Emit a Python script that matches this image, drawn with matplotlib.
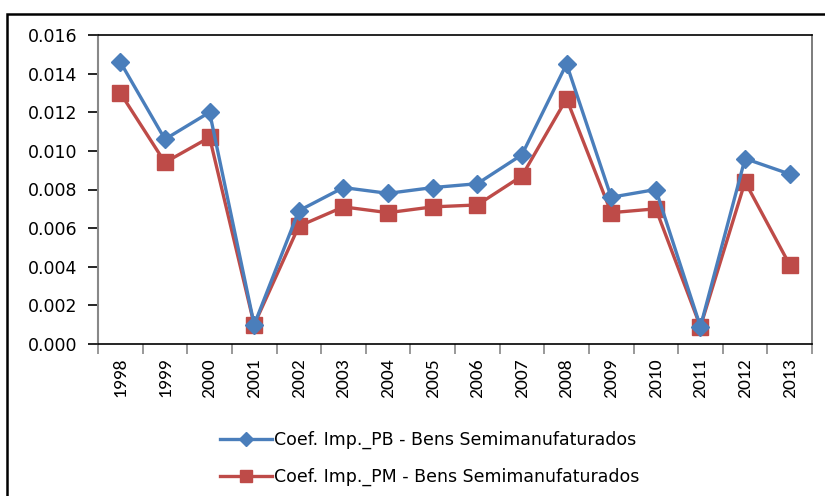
import matplotlib
matplotlib.use("Agg")
import matplotlib.pyplot as plt
from matplotlib.patches import Rectangle
import numpy as np

years = ["1998", "1999", "2000", "2001", "2002", "2003", "2004", "2005",
         "2006", "2007", "2008", "2009", "2010", "2011", "2012", "2013"]
pb_values = [0.0146, 0.0106, 0.0120, 0.0010, 0.0069, 0.0081, 0.0078, 0.0081,
             0.0083, 0.0098, 0.0145, 0.0076, 0.0080, 0.0009, 0.0096, 0.0088]
pm_values = [0.0130, 0.0094, 0.0107, 0.0010, 0.0061, 0.0071, 0.0068, 0.0071,
             0.0072, 0.0087, 0.0127, 0.0068, 0.0070, 0.0009, 0.0084, 0.0041]
pb_label = "Coef. Imp._PB - Bens Semimanufaturados"
pm_label = "Coef. Imp._PM - Bens Semimanufaturados"
yticks = [0.000, 0.002, 0.004, 0.006, 0.008, 0.010, 0.012, 0.014, 0.016]

W, H = 825, 496
fig = plt.figure(figsize=(W / 100, H / 100), dpi=100)
fig.patch.set_facecolor("white")

fig.patches.append(Rectangle((7 / W, -0.05), 1.2, 1 - 14 / H + 0.05,
                             transform=fig.transFigure, fill=False,
                             edgecolor="black", linewidth=1.8))

left, right, top, bottom = 98, 812, 35, 344
ax = fig.add_axes([left / W, 1 - bottom / H, (right - left) / W, (bottom - top) / H])

x = np.arange(len(years))
ax.plot(x, pb_values, color="#4A7EBB", linewidth=2.4, marker="D", markersize=9,
        label=pb_label, zorder=3)
ax.plot(x, pm_values, color="#BE4B48", linewidth=2.4, marker="s", markersize=11,
        label=pm_label, zorder=2)

ax.set_xlim(-0.5, len(years) - 0.5)
ax.set_ylim(0, 0.016)
ax.set_yticks(yticks)
ax.set_yticklabels([f"{v:.3f}" for v in yticks], fontsize=12.5, family="DejaVu Sans")
ax.set_xticks(x)
ax.set_xticklabels(years, rotation=90, fontsize=14, family=["Carlito", "DejaVu Sans"])
ax.set_xticks(np.arange(-0.5, len(years), 1.0), minor=True)
ax.tick_params(axis="x", which="major", length=0, pad=10)
ax.tick_params(axis="x", which="minor", length=7, color="#888888", width=1.2)
ax.tick_params(axis="y", which="major", length=7, color="#000000", width=1.2, pad=8)

ax.spines["left"].set_color("#888888")
ax.spines["left"].set_linewidth(1.5)
ax.spines["bottom"].set_color("#000000")
ax.spines["bottom"].set_linewidth(1.2)
ax.spines["top"].set_color("#000000")
ax.spines["top"].set_linewidth(1.2)
ax.spines["right"].set_color("#666666")
ax.spines["right"].set_linewidth(1.2)

leg = fig.legend(loc="center left", bbox_to_anchor=(220 / W, 1 - 458.5 / H), ncol=1,
                 frameon=False, handlelength=3.0, handletextpad=0.1,
                 labelspacing=1.05, borderpad=0, borderaxespad=0, markerscale=0.8,
                 prop={"family": "DejaVu Sans", "size": 12.5})

fig.savefig("out.png", dpi=100)
